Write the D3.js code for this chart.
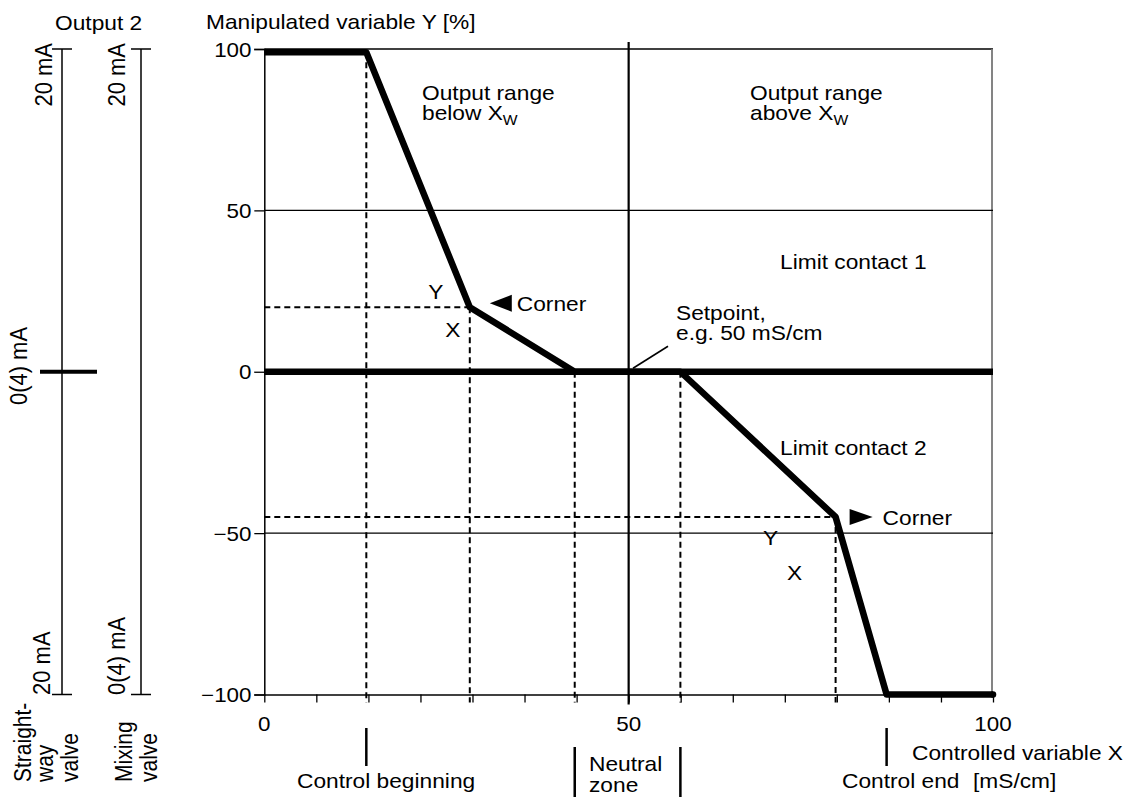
<!DOCTYPE html>
<html>
<head>
<meta charset="utf-8">
<script src="https://cdn.jsdelivr.net/npm/d3@7"></script>
<style>
  html, body { margin: 0; padding: 0; background: #fff; }
  svg { display: block; font-family: "Liberation Sans", Arial, Helvetica, sans-serif; }
  text { fill: #000; }
</style>
</head>
<body>
<svg id="chart" width="1127" height="797"></svg>
<script>
// ---------- data ----------
const curveX = [0, 14, 28.2, 42.6, 57.1, 78.4, 85.4, 100];
const curveY = [99, 99, 20, 0, 0, -45, -100, -100];
const yTickValues = [-100, -50, 0, 50, 100];
const yTickLabels = ["\u2212100", "\u221250", "0", "50", "100"];
const xTickValues = [0, 50, 100];
const xTickLabels = ["0", "50", "100"];
const xMinorTicks = [0, 7.14, 14.29, 21.43, 28.57, 35.71, 42.86, 50, 57.14, 64.29, 71.43, 78.57, 85.71, 92.86, 100];
const gridY = [50, -50];
const setpointX = 50;
const cornerIdx = [2, 5];        // indices of the two corner points
const dashedVIdx = [1, 2, 3, 4, 5];
const leader = [[50.6, 1.1], [55.4, 7.9]];

// ---------- setup ----------
const SX = 1.12;
const svg = d3.select("#chart");
const x = d3.scaleLinear().domain([0, 100]).range([264.3, 993]);
const y = d3.scaleLinear().domain([-100, 100]).range([694.5, 49]);

function txt(px, py, str, o = {}) {
  const size = o.size || 20.3;
  let tr = `translate(${px},${py}) scale(${SX},1)`;
  if (o.rotate) tr += " rotate(-90)";
  const t = svg.append("text")
    .attr("transform", tr)
    .attr("font-size", size)
    .attr("text-anchor", o.anchor || "start");
  if (Array.isArray(str)) {
    str.forEach(s => {
      const ts = t.append("tspan").text(s.t);
      if (s.size) ts.attr("font-size", s.size);
      if (s.dy) ts.attr("dy", s.dy);
    });
  } else t.text(str);
  return t;
}

// ---------- frame / grid ----------
svg.append("line").attr("x1", x(0)).attr("x2", x(100)).attr("y1", y(100)).attr("y2", y(100))
  .attr("stroke", "#000").attr("stroke-width", 1.5);
svg.append("line").attr("x1", x(100) - 1).attr("x2", x(100) - 1).attr("y1", y(100)).attr("y2", y(-100))
  .attr("stroke", "#777").attr("stroke-width", 1.8);
svg.selectAll(".grid").data(gridY).enter().append("line")
  .attr("x1", x(0)).attr("x2", x(100)).attr("y1", d => y(d)).attr("y2", d => y(d))
  .attr("stroke", "#000").attr("stroke-width", 1.2);

// setpoint vertical line
svg.append("line").attr("x1", x(setpointX)).attr("x2", x(setpointX))
  .attr("y1", y(100) - 7).attr("y2", y(-100) + 10)
  .attr("stroke", "#000").attr("stroke-width", 2.2);

// axes
const yAxis = d3.axisLeft(y).tickValues(yTickValues).tickSize(10).tickFormat("");
const gy = svg.append("g").attr("transform", `translate(${x(0)},0)`).call(yAxis);
gy.select(".domain").attr("stroke-width", 1.5);
gy.selectAll(".tick line").attr("stroke-width", 1.3);
yTickValues.forEach((v, i) => txt(251.5, y(v) + 7.5, yTickLabels[i], { anchor: "end", size: 20 }));

const xAxis = d3.axisBottom(x).tickValues(xMinorTicks).tickSize(8).tickFormat("").tickSizeOuter(0);
const gx = svg.append("g").attr("transform", `translate(0,${y(-100)})`).call(xAxis);
gx.select(".domain").attr("stroke-width", 1.5);
gx.selectAll(".tick line").attr("stroke-width", 1.3);
xTickValues.forEach((v, i) => txt(x(v), 731, xTickLabels[i], { anchor: "middle", size: 20 }));

// ---------- dashed guides ----------
const dash = "6,4";
dashedVIdx.forEach(i => {
  svg.append("line").attr("x1", x(curveX[i])).attr("x2", x(curveX[i]))
    .attr("y1", y(curveY[i])).attr("y2", y(-100) + 8)
    .attr("stroke", "#000").attr("stroke-width", 2).attr("stroke-dasharray", dash);
});
cornerIdx.forEach(i => {
  svg.append("line").attr("x1", x(0)).attr("x2", x(curveX[i]))
    .attr("y1", y(curveY[i])).attr("y2", y(curveY[i]))
    .attr("stroke", "#000").attr("stroke-width", 2).attr("stroke-dasharray", dash);
});

// ---------- thick zero line and curve ----------
svg.append("line").attr("x1", x(0)).attr("x2", x(100)).attr("y1", y(0)).attr("y2", y(0))
  .attr("stroke", "#000").attr("stroke-width", 6.5);
const pts = curveX.map((v, i) => [v, curveY[i]]);
svg.append("path").datum(pts)
  .attr("d", d3.line().x(d => x(d[0])).y(d => y(d[1])))
  .attr("fill", "none").attr("stroke", "#000").attr("stroke-width", 6.5)
  .attr("stroke-linejoin", "round");
svg.append("circle").attr("cx", x(100)).attr("cy", y(-100)).attr("r", 3.25).attr("fill", "#000");

// setpoint leader
svg.append("line").attr("x1", x(leader[0][0])).attr("y1", y(leader[0][1]))
  .attr("x2", x(leader[1][0])).attr("y2", y(leader[1][1]))
  .attr("stroke", "#000").attr("stroke-width", 1.6);

// ---------- corner markers ----------
const c1 = [x(curveX[cornerIdx[0]]), y(curveY[cornerIdx[0]])];
const c2 = [x(curveX[cornerIdx[1]]), y(curveY[cornerIdx[1]])];
svg.append("path").attr("d", `M${c1[0] + 20},${c1[1] - 4} L${c1[0] + 42},${c1[1] - 12.5} L${c1[0] + 42},${c1[1] + 4.5} Z`).attr("fill", "#000");
txt(c1[0] + 47, c1[1] + 4, "Corner");
txt(c1[0] - 34, c1[1] - 8, "Y", { anchor: "middle" });
txt(c1[0] - 17, c1[1] + 30, "X", { anchor: "middle" });
svg.append("path").attr("d", `M${c2[0] + 14},${c2[1] - 8} L${c2[0] + 37},${c2[1]} L${c2[0] + 14},${c2[1] + 8} Z`).attr("fill", "#000");
txt(c2[0] + 47, c2[1] + 8.5, "Corner");
txt(c2[0] - 65, c2[1] + 28.5, "Y", { anchor: "middle" });
txt(c2[0] - 41, c2[1] + 63.5, "X", { anchor: "middle" });

// ---------- in-plot labels ----------
txt(422, 100, "Output range");
txt(422, 120, [{ t: "below X" }, { t: "W", size: 14, dy: 5 }]);
txt(750, 100, "Output range");
txt(750, 120, [{ t: "above X" }, { t: "W", size: 14, dy: 5 }]);
txt(780, 269, "Limit contact 1");
txt(780, 455, "Limit contact 2");
txt(676, 320, "Setpoint,");
txt(676, 340, "e.g. 50 mS/cm");

// titles
txt(55, 30, "Output 2");
txt(206, 29, "Manipulated variable Y [%]");

// ---------- bottom annotations ----------
function bar(px, y1, y2) {
  svg.append("line").attr("x1", px).attr("x2", px).attr("y1", y1).attr("y2", y2)
    .attr("stroke", "#000").attr("stroke-width", 2.5);
}
bar(x(curveX[1]), 728, 766);
txt(297, 788, "Control beginning");
bar(x(curveX[3]), 747, 797);
bar(x(curveX[4]), 747, 797);
txt(589, 771, "Neutral");
txt(589, 792, "zone");
bar(x(curveX[6]), 728, 766);
txt(842, 788, "Control end");
txt(973, 788, "[mS/cm]");
txt(912, 760, "Controlled variable X");

// ---------- left output axes ----------
const axL = [62, 141];
axL.forEach(ax => {
  svg.append("line").attr("x1", ax).attr("x2", ax).attr("y1", y(100)).attr("y2", y(-100))
    .attr("stroke", "#000").attr("stroke-width", 1.5);
  [100, -100].forEach(v => svg.append("line").attr("x1", ax - 10).attr("x2", ax + 10)
    .attr("y1", y(v)).attr("y2", y(v)).attr("stroke", "#000").attr("stroke-width", 1.5));
});
svg.append("line").attr("x1", 40).attr("x2", 97).attr("y1", y(0)).attr("y2", y(0))
  .attr("stroke", "#000").attr("stroke-width", 4);

txt(52, 43, "20 mA", { rotate: true, anchor: "end", size: 22 });
txt(125, 43, "20 mA", { rotate: true, anchor: "end", size: 22 });
txt(27, 366, "0(4) mA", { rotate: true, anchor: "middle", size: 22 });
txt(50, 695, "20 mA", { rotate: true, anchor: "start", size: 22 });
txt(125, 695, "0(4) mA", { rotate: true, anchor: "start", size: 22 });
txt(31, 782, "Straight-", { rotate: true, size: 21 });
txt(53, 782, "way", { rotate: true, size: 21 });
txt(78, 782, "valve", { rotate: true, size: 21 });
txt(132, 782, "Mixing", { rotate: true, size: 21 });
txt(157, 782, "valve", { rotate: true, size: 21 });
</script>
</body>
</html>
